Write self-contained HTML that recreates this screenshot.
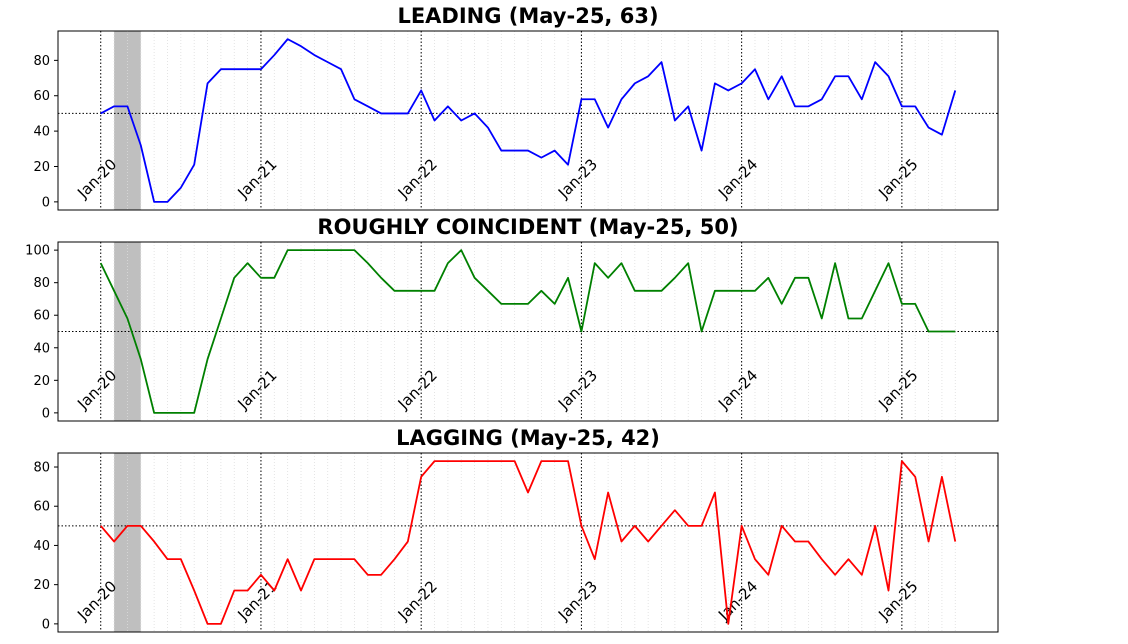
<!DOCTYPE html>
<html><head><meta charset="utf-8"><style>
body{margin:0;background:#fff}
svg{display:block;font-family:"DejaVu Sans","Liberation Sans",sans-serif}
</style></head><body>
<svg id="chart" width="1128" height="644" xmlns="http://www.w3.org/2000/svg"></svg>
<script>
const yearLabels = ["Jan-20","Jan-21","Jan-22","Jan-23","Jan-24","Jan-25"];
const leading = [50,54,54,32,0,0,8,21,67,75,75,75,75,83,92,88,83,79,75,58,54,50,50,50,63,46,54,46,50,42,29,29,29,25,29,21,58,58,42,58,67,71,79,46,54,29,67,63,67,75,58,71,54,54,58,71,71,58,79,71,54,54,42,38,63];
const coincident = [92,75,58,33,0,0,0,0,33,58,83,92,83,83,100,100,100,100,100,100,92,83,75,75,75,75,92,100,83,75,67,67,67,75,67,83,50,92,83,92,75,75,75,83,92,50,75,75,75,75,83,67,83,83,58,92,58,58,75,92,67,67,50,50,50];
const lagging = [50,42,50,50,42,33,33,17,0,0,17,17,25,17,33,17,33,33,33,33,25,25,33,42,75,83,83,83,83,83,83,83,67,83,83,83,50,33,67,42,50,42,50,58,50,50,67,0,50,33,25,50,42,42,33,25,33,25,50,17,83,75,42,75,42];
const titles = ["LEADING (May-25, 63)","ROUGHLY COINCIDENT (May-25, 50)","LAGGING (May-25, 42)"];
const yTicksA = [0,20,40,60,80];
const yTicksB = [0,20,40,60,80,100];
const recession = [1,3];

const NS="http://www.w3.org/2000/svg";
const svg=document.getElementById('chart');
function mk(tag,attrs,parent){const e=document.createElementNS(NS,tag);for(const k in attrs)e.setAttribute(k,attrs[k]);(parent||svg).appendChild(e);return e;}
const X0=58,X1=998,N=leading.length;
const xmin=-3.2,xmax=(N-1)+3.2;
function xs(i){return X0+(i-xmin)/(xmax-xmin)*(X1-X0);}
const panels=[
 {top:31,bot:210,data:leading,color:"#0000ff",ticks:yTicksA,key:"leading"},
 {top:242,bot:421,data:coincident,color:"#008000",ticks:yTicksB,key:"coincident"},
 {top:453,bot:632,data:lagging,color:"#ff0000",ticks:yTicksA,key:"lagging"}
];
panels.forEach((p,pi)=>{
 const g=mk('g',{});
 
 
 const mx=Math.max(...p.data),mn=Math.min(...p.data),pad=(mx-mn)*0.05;
 const ymin=mn-pad,ymax=mx+pad;
 const ys=v=>p.bot-(v-ymin)/(ymax-ymin)*(p.bot-p.top);
 // recession
 const r=mk('rect',{x:xs(recession[0]),y:p.top,width:xs(recession[1])-xs(recession[0]),height:p.bot-p.top,fill:"#bfbfbf"},g);
 
 
 // minor month grid
 for(let i=0;i<N;i++){if(i%12===0)continue;mk('line',{x1:xs(i),x2:xs(i),y1:p.top,y2:p.bot,stroke:"#dddddd","stroke-width":0.8,"stroke-dasharray":"1,2"},g);}
 // year lines
 yearLabels.forEach((lab,k)=>{
  const x=xs(k*12);
  const l=mk('line',{x1:x,x2:x,y1:p.top,y2:p.bot,stroke:"#000","stroke-width":1,"stroke-dasharray":"1.5,2"},g);
  
  
  const t=mk('text',{x:x,y:p.bot-28,"font-size":15,"text-anchor":"middle",fill:"#000",transform:`rotate(-45 ${x} ${p.bot-28})`},g);
  
  
  t.textContent=lab;
 });
 // 50 line
 const h=mk('line',{x1:X0,x2:X1,y1:ys(50),y2:ys(50),stroke:"#000","stroke-width":1,"stroke-dasharray":"1.5,2"},g);
 
 
 // series
 const pts=p.data.map((v,i)=>xs(i).toFixed(2)+","+ys(v).toFixed(2)).join(" ");
 const pl=mk('polyline',{points:pts,fill:"none",stroke:p.color,"stroke-width":1.8,"stroke-linejoin":"round"},g);
 
 
 // frame
 mk('rect',{x:X0,y:p.top,width:X1-X0,height:p.bot-p.top,fill:"none",stroke:"#000","stroke-width":1},g);
 // y ticks
 p.ticks.forEach(v=>{
  const y=ys(v);
  mk('line',{x1:X0-4,x2:X0,y1:y,y2:y,stroke:"#000"},g);
  const t=mk('text',{x:X0-8,y:y+4.5,"font-size":13,"text-anchor":"end",fill:"#000"},g);
  
  
  t.textContent=v;
 });
 const tt=mk('text',{x:528,y:p.top-8,"font-size":21,"font-weight":"bold","text-anchor":"middle",fill:"#000"},g);
 
 
 tt.textContent=titles[pi];
});
</script>
</body></html>
